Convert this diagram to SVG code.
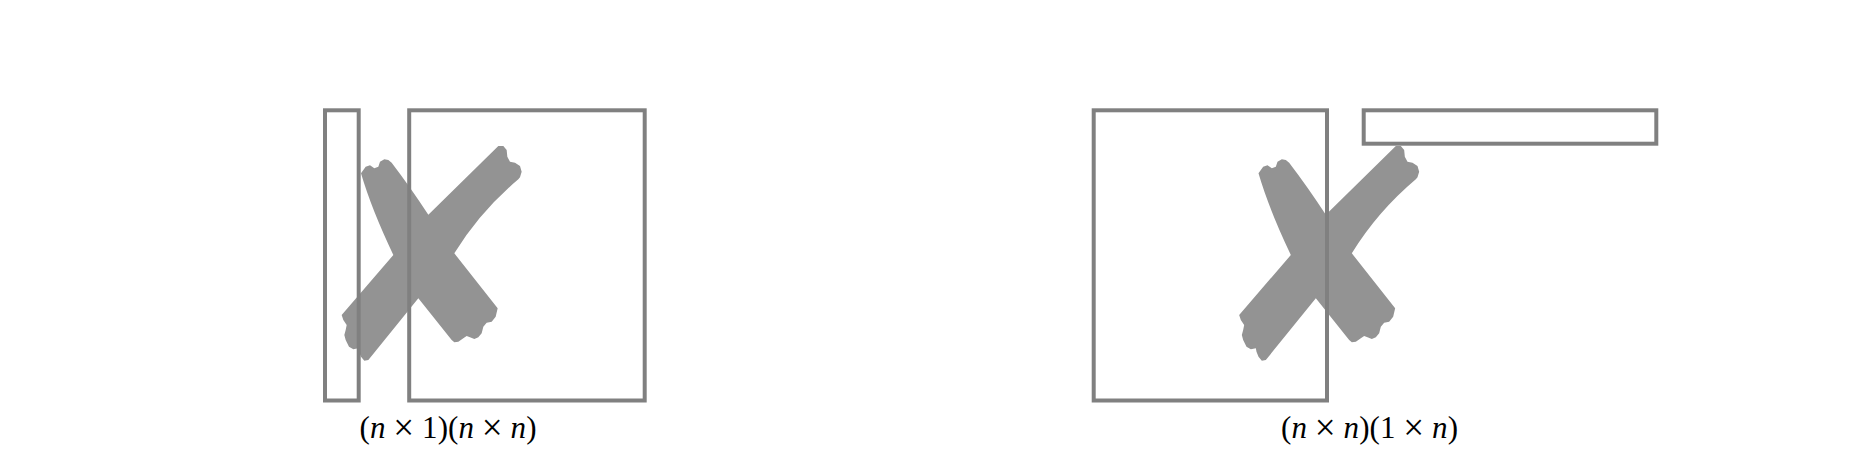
<svg xmlns="http://www.w3.org/2000/svg" xmlns:xlink="http://www.w3.org/1999/xlink" width="1853" height="452" viewBox="0 0 1853 452">
<style>
.box{fill:none;stroke:#808080;stroke-width:4}
.cross{fill:#939393;stroke:none}
.lbl{font-family:"Liberation Serif","Times New Roman",serif;font-size:31px;fill:#000}
.it{font-style:italic}
.op{font-size:37px}
</style>
<defs>
<path id="xshape" class="cross" d="M78,100 L92,80 L105,76 L118,85 L130,80 L135,65 L148,58 L160,60 L170,68 Q225,140 280,224 L490,18 L505,18 L515,30 L517,50 L525,65 L540,68 L555,78 L560,95 L555,112 L550,118 Q435,215 358,340 L488,505 L482,530 L470,545 L455,548 L445,560 L440,580 L430,592 L418,597 L405,592 L395,588 L385,595 L370,605 L358,607 L350,600 L250,475 L100,660 L88,662 L78,650 L72,635 L70,625 L55,628 L42,620 L32,600 L28,585 L32,570 L35,555 L25,540 L20,525 L175,345 Q109.5,207.5 78,100 Z"/>
</defs>
<rect width="1853" height="452" fill="#fff"/>
<g id="left-product">
  <g id="left-cross" transform="translate(335 140) scale(0.33333)"><use xlink:href="#xshape" href="#xshape"/></g>
  <g id="left-vector"><rect class="box" x="325" y="110.3" width="33.7" height="290.2"/></g>
  <g id="left-matrix"><rect class="box" x="409.2" y="110.3" width="235.5" height="290.2"/></g>
  <g id="left-label"><text class="lbl" x="359.5" y="438" textLength="177" lengthAdjust="spacing">(<tspan class="it">n</tspan> <tspan class="op" dy="2">×</tspan><tspan dy="-2"> 1)(</tspan><tspan class="it">n</tspan> <tspan class="op" dy="2">×</tspan><tspan dy="-2"> </tspan><tspan class="it">n</tspan>)</text></g>
</g>
<g id="right-product">
  <g id="right-cross" transform="translate(1232.5 140) scale(0.33333)"><use xlink:href="#xshape" href="#xshape"/></g>
  <g id="right-matrix"><rect class="box" x="1093.7" y="110.3" width="233.3" height="290.2"/></g>
  <g id="right-vector"><rect class="box" x="1363.7" y="110.3" width="292.6" height="33.4"/></g>
  <g id="right-label"><text class="lbl" x="1281" y="438" textLength="177" lengthAdjust="spacing">(<tspan class="it">n</tspan> <tspan class="op" dy="2">×</tspan><tspan dy="-2"> </tspan><tspan class="it">n</tspan>)(1 <tspan class="op" dy="2">×</tspan><tspan dy="-2"> </tspan><tspan class="it">n</tspan>)</text></g>
</g>
<g id="connectors"/>
</svg>
